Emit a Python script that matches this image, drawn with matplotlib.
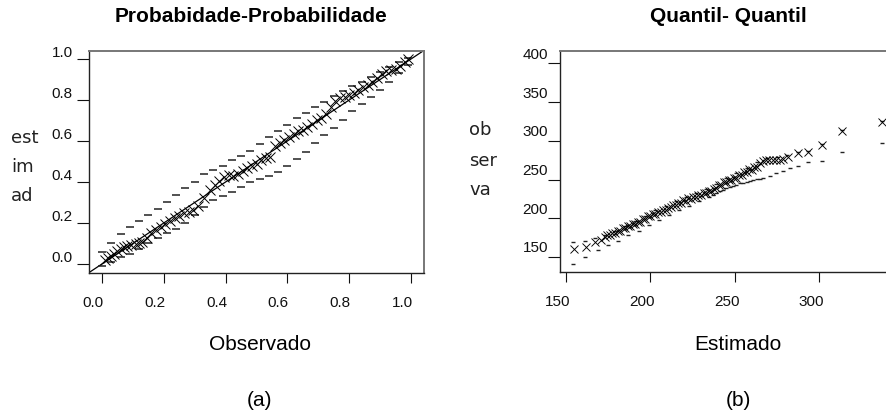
import matplotlib
matplotlib.use("Agg")
import matplotlib.pyplot as plt
from matplotlib.transforms import ScaledTranslation

plt.rcParams['font.family'] = ['Liberation Sans', 'DejaVu Sans']

# ---------------- data: P-P plot ----------------
pp_observado = [0.010, 0.020, 0.030, 0.040, 0.050, 0.060, 0.070, 0.080, 0.095, 0.110,
                0.120, 0.130, 0.145, 0.160, 0.175, 0.190, 0.205, 0.220, 0.235, 0.250,
                0.265, 0.280, 0.295, 0.310, 0.330, 0.350, 0.365, 0.380, 0.395, 0.410,
                0.425, 0.440, 0.455, 0.470, 0.485, 0.500, 0.515, 0.530, 0.545, 0.560,
                0.575, 0.590, 0.605, 0.620, 0.635, 0.650, 0.665, 0.680, 0.695, 0.710,
                0.725, 0.740, 0.755, 0.770, 0.785, 0.800, 0.815, 0.830, 0.845, 0.860,
                0.875, 0.890, 0.905, 0.920, 0.935, 0.950, 0.965, 0.980, 0.990]
pp_estimado = [0.020, 0.030, 0.040, 0.048, 0.062, 0.072, 0.083, 0.088, 0.094, 0.098,
               0.100, 0.108, 0.128, 0.150, 0.165, 0.180, 0.196, 0.210, 0.224, 0.236,
               0.248, 0.255, 0.262, 0.285, 0.322, 0.360, 0.385, 0.405, 0.425, 0.432,
               0.430, 0.440, 0.455, 0.466, 0.478, 0.490, 0.505, 0.515, 0.522, 0.575,
               0.592, 0.605, 0.618, 0.635, 0.648, 0.655, 0.668, 0.685, 0.700, 0.712,
               0.730, 0.765, 0.795, 0.808, 0.815, 0.825, 0.835, 0.850, 0.862, 0.875,
               0.888, 0.905, 0.925, 0.940, 0.945, 0.950, 0.968, 0.985, 0.998]

pp_env_x = [0.00, 0.03, 0.06, 0.09, 0.12, 0.15, 0.18, 0.21, 0.24, 0.27, 0.30, 0.33,
            0.36, 0.39, 0.42, 0.45, 0.48, 0.51, 0.54, 0.57, 0.60, 0.63, 0.66, 0.69,
            0.72, 0.75, 0.78, 0.81, 0.84, 0.87, 0.90, 0.93, 0.96, 0.99]
pp_upper = [0.060, 0.100, 0.145, 0.180, 0.210, 0.240, 0.270, 0.300, 0.335, 0.370, 0.400, 0.440,
            0.460, 0.480, 0.505, 0.525, 0.550, 0.585, 0.620, 0.650, 0.680, 0.710, 0.735, 0.765,
            0.790, 0.820, 0.845, 0.870, 0.890, 0.910, 0.935, 0.960, 0.985, 1.005]
pp_lower = [-0.010, 0.010, 0.035, 0.050, 0.075, 0.100, 0.125, 0.150, 0.170, 0.200, 0.240, 0.280,
            0.310, 0.330, 0.350, 0.375, 0.400, 0.415, 0.430, 0.450, 0.480, 0.510, 0.545, 0.590,
            0.630, 0.665, 0.700, 0.745, 0.780, 0.815, 0.850, 0.890, 0.930, 0.970]

pp_ticks = [0.0, 0.2, 0.4, 0.6, 0.8, 1.0]
pp_ticklabels = ["0.0", "0.2", "0.4", "0.6", "0.8", "1.0"]

# ---------------- data: Q-Q plot ----------------
qq_estimado = [154.7, 162.1, 167.0, 171.0,
               173.0, 174.5, 176.0, 177.5, 179.0, 180.5, 182.0, 183.5, 185.0, 186.5,
               188.0, 189.5, 191.0, 192.5, 194.0, 195.5, 197.0, 198.5, 200.0, 201.5,
               203.0, 204.5, 206.0, 207.5, 209.0, 210.5, 212.0, 213.5, 215.0, 216.5,
               218.0, 219.5, 221.0, 222.5, 224.0, 225.5, 227.0, 228.5, 230.0, 231.5,
               233.0, 234.5, 236.0, 237.5, 239.0, 240.5, 242.0, 243.5, 245.0, 246.5,
               248.0, 249.5, 251.0, 252.5, 254.0, 255.5, 257.0, 258.5, 260.0, 261.5,
               263.0,
               264.8, 266.5, 268.8, 270.5, 272.7, 274.5, 276.7, 278.5, 281.7, 287.6,
               293.5, 302.0, 313.6, 337.0]
qq_observado = [160.0, 163.3, 169.7, 172.0,
                176.0, 178.5, 178.0, 181.0, 181.0, 184.0, 184.0, 187.0, 187.0, 190.0,
                189.5, 192.5, 192.5, 195.5, 195.5, 199.0, 199.0, 202.5, 203.0, 205.5,
                205.5, 208.5, 208.0, 211.0, 210.5, 213.5, 214.0, 216.5, 216.5, 219.5,
                220.0, 223.0, 222.5, 225.5, 225.0, 227.5, 227.5, 230.0, 230.0, 232.5,
                232.5, 235.0, 235.0, 237.5, 239.0, 242.5, 243.0, 246.5, 246.5, 249.5,
                249.5, 252.5, 252.5, 256.0, 256.0, 259.5, 259.5, 263.0, 262.5, 266.0,
                266.5,
                271.7, 274.0, 275.0, 275.5, 275.0, 275.5, 275.0, 276.0, 278.6, 283.8,
                285.9, 294.5, 313.0, 324.6]

qq_low_x = [154.2, 161.5, 168.8, 175.0, 181.0, 187.0, 193.0, 199.0, 205.0, 211.0,
            217.0, 223.0, 229.0, 235.0, 237.0, 239.0, 241.0, 243.0, 245.0, 247.0,
            249.0, 251.0, 253.0, 255.0, 257.0, 259.0, 261.0, 263.0, 265.0, 266.8,
            270.8, 274.7, 278.7, 282.6, 287.6, 293.5, 302.0, 313.6, 337.0]
qq_lower = [140.6, 149.6, 159.0, 165.0, 171.0, 178.0, 184.0, 191.0, 198.0, 204.0,
            210.0, 216.0, 222.0, 228.0, 230.5, 233.0, 235.0, 237.0, 239.0, 240.7,
            242.0, 243.5, 245.0, 246.0, 247.0, 248.2, 249.5, 250.5, 251.2, 252.0,
            254.5, 258.0, 261.0, 264.4, 267.0, 273.0, 274.0, 285.0, 297.5]

qq_up_x = [154.2, 161.5, 167.0, 173.0, 179.0, 185.0, 191.0, 197.0, 203.0, 209.0,
           215.0, 221.0, 227.0, 233.0, 239.0, 245.0, 251.0, 257.0, 263.0, 269.0,
           275.0, 281.0, 287.6, 293.5, 302.0, 313.6, 337.0]
qq_upper = [169.7, 171.0, 175.0, 179.0, 184.0, 190.0, 196.0, 203.0, 210.0, 216.0,
            222.0, 228.0, 232.0, 238.0, 244.0, 252.0, 258.0, 265.0, 272.0, 278.0,
            279.0, 281.0, 285.0, 287.0, 295.5, 314.0, 326.0]

qq_xticks = [150, 200, 250, 300]
qq_yticks = [150, 200, 250, 300, 350, 400]

# ---------------- figure ----------------
W, H = 886, 417
fig = plt.figure(figsize=(W / 100, H / 100), dpi=100)


def px_axes(l, t, r, b):
    return fig.add_axes([l / W, 1 - b / H, (r - l) / W, (b - t) / H])


def shift(dx_px, dy_px):
    return ScaledTranslation(dx_px / 100, dy_px / 100, fig.dpi_scale_trans)


def style_axes(ax):
    for side in ("left", "bottom"):
        ax.spines[side].set_color("#222222")
        ax.spines[side].set_linewidth(1.0)
    for side in ("top", "right"):
        ax.spines[side].set_color("#777777")
        ax.spines[side].set_linewidth(1.4)
    ax.tick_params(axis="x", length=7.2, width=0.8, direction="out", pad=9.5,
                   labelsize=11, colors="#111111")
    ax.tick_params(axis="y", length=8.6, width=0.8, direction="out",
                   labelsize=11, colors="#111111")


# ---- left: P-P ----
ax1 = px_axes(89, 51, 424, 273)
ax1.set_xlim(-0.042, 1.042)
ax1.set_ylim(-0.044, 1.039)
ax1.axline((0, 0), slope=1, color="black", lw=0.9)
ax1.plot(pp_env_x, pp_upper, ls="none", marker="_", ms=6, mew=1.1, color="#222222")
ax1.plot(pp_env_x, pp_lower, ls="none", marker="_", ms=6, mew=1.1, color="#222222")
ax1.plot(pp_observado, pp_estimado, ls="none", marker="x", ms=6.5, mew=0.7, color="black")
ax1.set_xticks(pp_ticks)
ax1.set_xticklabels(pp_ticklabels)
ax1.set_yticks(pp_ticks)
ax1.set_yticklabels(pp_ticklabels)
style_axes(ax1)
ax1.tick_params(axis="y", pad=3)
for lab in ax1.get_xticklabels():
    lab.set_transform(lab.get_transform() + shift(-9, 0))
for lab in ax1.get_yticklabels():
    lab.set_transform(lab.get_transform() + shift(0, 7))

# ---- right: Q-Q ----
ax2 = px_axes(560, 51, 895, 272)
ax2.set_xlim(146.4, 345.0)
ax2.set_ylim(130.6, 415.9)
ax2.plot(qq_low_x, qq_lower, ls="none", marker="_", ms=2.8, mew=1.0, color="#222222")
ax2.plot(qq_up_x, qq_upper, ls="none", marker="_", ms=2.8, mew=1.0, color="#222222")
ax2.plot(qq_estimado, qq_observado, ls="none", marker="x", ms=6, mew=0.65, color="black")
ax2.set_xticks(qq_xticks)
ax2.set_xticklabels([str(v) for v in qq_xticks])
ax2.set_yticks(qq_yticks)
ax2.set_yticklabels([str(v) for v in qq_yticks])
style_axes(ax2)
ax2.tick_params(axis="y", pad=0)
for lab in ax2.get_xticklabels():
    lab.set_transform(lab.get_transform() + shift(-8, 0))
for lab in ax2.get_yticklabels():
    lab.set_transform(lab.get_transform() + shift(0, 10))

# ---- texts ----
def ftext(x, y, s, **kw):
    fig.text(x / W, 1 - y / H, s, **kw)

ftext(251, 17, "Probabidade-Probabilidade", ha="center", va="center",
      fontsize=15, fontweight="bold")
ftext(728, 17, "Quantil- Quantil", ha="center", va="center",
      fontsize=15, fontweight="bold")

ftext(260, 345, "Observado", ha="center", va="center", fontsize=15)
ftext(738, 345, "Estimado", ha="center", va="center", fontsize=15)
ftext(260, 400, "(a)", ha="center", va="center", fontsize=15)
ftext(738, 400, "(b)", ha="center", va="center", fontsize=15)

ylab_font = dict(ha="left", va="baseline", fontsize=13, family=["DejaVu Sans"],
                 color="#222222")
for word, base in zip(["est", "im", "ad"], [143, 172, 201]):
    ftext(11, base, word, **ylab_font)
for word, base in zip(["ob", "ser", "va"], [135, 166, 195]):
    ftext(469, base, word, **ylab_font)

fig.savefig("out.png", dpi=100)
